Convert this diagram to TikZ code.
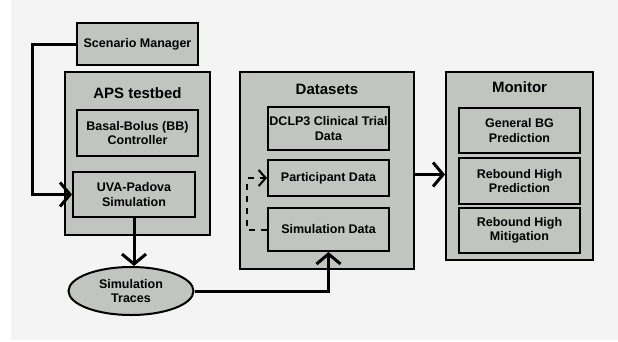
\documentclass[tikz,border=0pt]{standalone}
\usepackage{fontspec}
\setmainfont{Liberation Sans}
\usetikzlibrary{arrows.meta,shapes.geometric}
\definecolor{boxgray}{HTML}{C1C4BF}
\definecolor{pagegray}{HTML}{F4F4F4}

\begin{document}
\begin{tikzpicture}[x=1pt,y=-1pt,
  box/.style={draw=black,line width=2pt,fill=boxgray,align=center,inner sep=0pt,
    font=\bfseries\fontsize{12.5}{14.5}\selectfont,minimum width=121pt},
  outer/.style={draw=black,line width=2pt,fill=boxgray,inner sep=0pt},
  title/.style={font=\bfseries\fontsize{15}{17}\selectfont,inner sep=0pt},
  flow/.style={line width=3pt,-{Straight Barb[length=10pt,width=24pt,line width=3pt]}},
  dashflow/.style={line width=2pt,dash pattern=on 6pt off 6pt,
    -{Straight Barb[length=7pt,width=16pt,line width=2pt]}}]
\useasboundingbox (0,0) rectangle (618,341);
\fill[white] (0,0) rectangle (618,341);
\fill[pagegray] (11,0) rectangle (618,340);
% scenario and testbed
\node[box,minimum height=42pt] (scen) at (137.5,44) {Scenario Manager};
\node[outer,minimum width=145pt,minimum height=163pt] (aps) at (137.5,153.5) {};
\node[title] (apst) at (137.5,93) {APS testbed};
\node[box,minimum height=46pt] (bb) at (137.5,133) {Basal-Bolus (BB)\\Controller};
\node[box,minimum width=122pt,minimum height=45pt] (uva) at (134,194.5) {UVA-Padova\\Simulation};
\node[ellipse,draw=black,line width=2pt,fill=boxgray,inner sep=0pt,align=center,
  minimum width=125pt,minimum height=48pt,font=\bfseries\fontsize{12.5}{14.5}\selectfont]
  (traces) at (131,291) {Simulation\\Traces};
% datasets
\node[outer,minimum width=174pt,minimum height=197pt] (data) at (327,170.5) {};
\node[title] (datat) at (327,89) {Datasets};
\node[box,minimum height=43pt] (dclp) at (328.5,128.5) {DCLP3 Clinical Trial\\Data};
\node[box,minimum height=36pt] (part) at (328.5,178) {Participant Data};
\node[box,minimum height=43pt] (simd) at (328.5,229.5) {Simulation Data};
% monitor
\node[outer,minimum width=147pt,minimum height=188pt] (mon) at (519.5,166) {};
\node[title] (mont) at (519.5,87) {Monitor};
\node[box,minimum height=45pt] (gbg) at (519.5,130.5) {General BG\\Prediction};
\node[box,minimum height=46pt] (rhp) at (519.5,181) {Rebound High\\Prediction};
\node[box,minimum height=45pt] (rhm) at (519.5,230.5) {Rebound High\\Mitigation};
% connectors
\draw[flow] (scen.west) -- ++(-44,0) |- (uva.west);
\draw[flow] (uva.south) -- (uva.south |- traces.north);
\draw[flow] (traces.east) -| (simd.south);
\draw[dashflow] (simd.west) -- ++(-20,0) |- (part.west);
\draw[flow] ([yshift=-4pt]data.east) -- ([yshift=-4pt]data.east -| mon.west);
\end{tikzpicture}
\end{document}
